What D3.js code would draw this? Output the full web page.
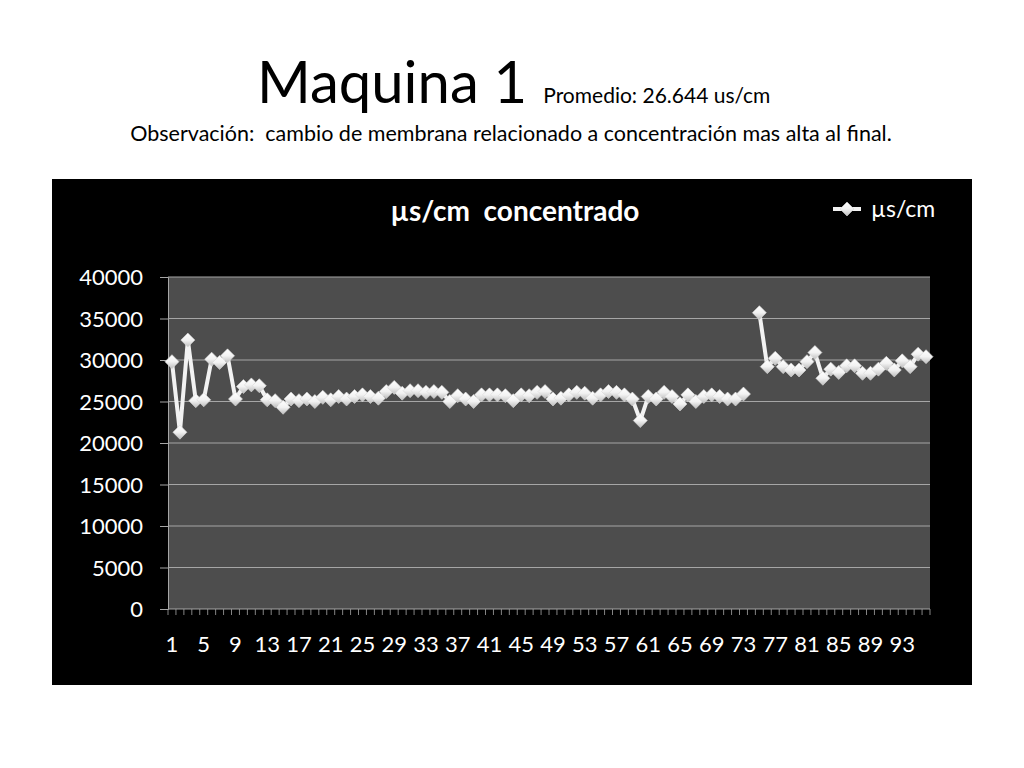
<!DOCTYPE html>
<html>
<head>
<meta charset="utf-8">
<script src="https://cdn.jsdelivr.net/npm/d3@7"></script>
<style>
  body { margin: 0; background: #fff; }
  text { font-family: Lato, "Open Sans", sans-serif; white-space: pre; }
</style>
</head>
<body>
<div id="chart"></div>
<script>
// values, one per sample (74 has no reading)
var samples = d3.range(1, 97);
var values = [
  29800, 21300, 32400, 25100, 25200, 30100, 29700, 30500, 25300, 26800,
  27000, 26900, 25200, 25100, 24300, 25300, 25100, 25300, 25000, 25500,
  25200, 25600, 25300, 25600, 25800, 25600, 25400, 26200, 26700, 26000,
  26300, 26300, 26100, 26200, 26100, 25000, 25700, 25300, 25000, 25800,
  25800, 25800, 25700, 25100, 25800, 25700, 26100, 26200, 25300, 25400,
  25800, 26100, 26000, 25400, 25800, 26200, 26100, 25800, 25300, 22700,
  25600, 25300, 26100, 25600, 24700, 25800, 25000, 25600, 25800, 25600,
  25300, 25300, 25900, null, 35700, 29200, 30200, 29200, 28800, 28800,
  29800, 30900, 27800, 28900, 28500, 29300, 29300, 28400, 28400, 28900,
  29600, 28800, 29900, 29200, 30700, 30400
];
var yTicks = [0, 5000, 10000, 15000, 20000, 25000, 30000, 35000, 40000];
var xLabels = samples.filter(function(d){ return (d - 1) % 4 === 0; });

var data = samples.map(function(s, i){ return {sample: s, value: values[i]}; });

var W = 1024, H = 768;
var svg = d3.select("#chart").append("svg")
    .attr("width", W)
    .attr("height", H);

var defs = svg.append("defs");
var grad = defs.append("linearGradient")
    .attr("id", "marker-fill")
    .attr("x1", "0%").attr("y1", "0%")
    .attr("x2", "0%").attr("y2", "100%");
grad.append("stop").attr("offset", "0%").attr("stop-color", "#ffffff");
grad.append("stop").attr("offset", "50%").attr("stop-color", "#f2f2f2");
grad.append("stop").attr("offset", "100%").attr("stop-color", "#bdbdbd");

// page heading
var head = svg.append("text")
    .attr("x", 257)
    .attr("y", 103)
    .attr("fill", "#000");
head.append("tspan")
    .style("font-size", "58px")
    .text("Maquina 1");
head.append("tspan")
    .attr("dx", 16)
    .style("font-size", "21px")
    .text("Promedio: 26.644 us/cm");

svg.append("text")
    .attr("x", 511)
    .attr("y", 141)
    .attr("text-anchor", "middle")
    .style("font-size", "21.5px")
    .attr("fill", "#000")
    .text("Observación:  cambio de membrana relacionado a concentración mas alta al final.");

// chart frame
svg.append("rect")
    .attr("x", 52)
    .attr("y", 179)
    .attr("width", 920)
    .attr("height", 506)
    .attr("fill", "#000");

var margin = {left: 168, top: 277, right: 930, bottom: 609};

var x = d3.scaleBand()
    .domain(samples)
    .range([margin.left, margin.right]);

var y = d3.scaleLinear()
    .domain([0, 40000])
    .range([margin.bottom, margin.top]);

svg.append("rect")
    .attr("x", margin.left)
    .attr("y", margin.top)
    .attr("width", margin.right - margin.left)
    .attr("height", margin.bottom - margin.top)
    .attr("fill", "#4d4d4d");

// gridlines
svg.append("g")
    .selectAll("line")
    .data(yTicks.filter(function(d){ return d > 0; }))
    .enter().append("line")
    .attr("x1", margin.left)
    .attr("x2", margin.right)
    .attr("y1", function(d){ return y(d); })
    .attr("y2", function(d){ return y(d); })
    .attr("stroke", "#a6a6a6")
    .attr("stroke-width", 1.2);

// y axis
var yAxis = d3.axisLeft(y)
    .tickValues(yTicks)
    .tickSize(8)
    .tickPadding(17)
    .tickFormat(d3.format("d"));

var gy = svg.append("g")
    .attr("transform", "translate(" + margin.left + ",0)")
    .call(yAxis);
gy.select(".domain").attr("stroke", "#a6a6a6");
gy.selectAll(".tick line").attr("stroke", "#a6a6a6");
gy.selectAll(".tick text")
    .attr("fill", "#fff")
    .style("font-size", "22px")
    .attr("dy", "0.35em");

// x axis: tick mark at every category boundary
var gx = svg.append("g")
    .attr("transform", "translate(0," + margin.bottom + ")");
gx.append("line")
    .attr("x1", margin.left)
    .attr("x2", margin.right)
    .attr("stroke", "#a6a6a6")
    .attr("stroke-width", 1.2);
gx.selectAll(".tk")
    .data(samples.concat([97]))
    .enter().append("line")
    .attr("class", "tk")
    .attr("x1", function(d){ return d === 97 ? margin.right : x(d); })
    .attr("x2", function(d){ return d === 97 ? margin.right : x(d); })
    .attr("y1", 0)
    .attr("y2", 6)
    .attr("stroke", "#a6a6a6")
    .attr("stroke-width", 0.8);
gx.selectAll(".lbl")
    .data(xLabels)
    .enter().append("text")
    .attr("class", "lbl")
    .attr("x", function(d){ return x(d) + x.bandwidth() / 2; })
    .attr("y", 43)
    .attr("text-anchor", "middle")
    .attr("fill", "#fff")
    .style("font-size", "22px")
    .text(function(d){ return d; });

// chart title
svg.append("text")
    .attr("x", 515)
    .attr("y", 221)
    .attr("text-anchor", "middle")
    .attr("fill", "#fff")
    .style("font-size", "28px")
    .style("font-weight", "bold")
    .text("µs/cm  concentrado");

// series line
var line = d3.line()
    .defined(function(d){ return d.value !== null; })
    .x(function(d){ return x(d.sample) + x.bandwidth() / 2; })
    .y(function(d){ return y(d.value); });

svg.append("path")
    .datum(data)
    .attr("d", line)
    .attr("fill", "none")
    .attr("stroke", "#f2f2f2")
    .attr("stroke-width", 4)
    .attr("stroke-linejoin", "round");

var diamond = "M0,-7L7,0L0,7L-7,0Z";

svg.append("g")
    .selectAll("path")
    .data(data.filter(function(d){ return d.value !== null; }))
    .enter().append("path")
    .attr("transform", function(d){
        return "translate(" + (x(d.sample) + x.bandwidth() / 2) + "," + y(d.value) + ")";
    })
    .attr("d", diamond)
    .attr("fill", "url(#marker-fill)")
    .attr("stroke", "#d9d9d9")
    .attr("stroke-width", 0.6);

// legend
var lg = svg.append("g").attr("transform", "translate(833,209)");
lg.append("line")
    .attr("x1", 0)
    .attr("x2", 28)
    .attr("stroke", "#f2f2f2")
    .attr("stroke-width", 4);
lg.append("path")
    .attr("transform", "translate(14,0)")
    .attr("d", diamond)
    .attr("fill", "url(#marker-fill)")
    .attr("stroke", "#d9d9d9")
    .attr("stroke-width", 0.6);
lg.append("text")
    .attr("x", 38)
    .attr("y", 8)
    .attr("fill", "#fff")
    .style("font-size", "23px")
    .text("µs/cm");
</script>
</body>
</html>
